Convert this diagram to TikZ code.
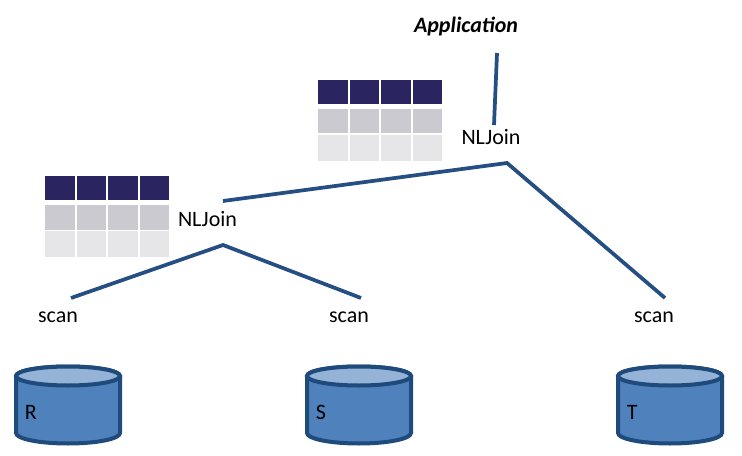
\documentclass[tikz,border=0pt]{standalone}
\usepackage{fontspec}
\setmainfont{Carlito}
\definecolor{linkblue}{HTML}{254F82}
\definecolor{cylfill}{HTML}{4F81BD}
\definecolor{cyltop}{HTML}{95B3D7}
\definecolor{cylline}{HTML}{1F4A7C}
\definecolor{rowa}{HTML}{2A2560}
\definecolor{rowb}{HTML}{CBCAD0}
\definecolor{rowc}{HTML}{E6E6E8}
\tikzset{
  lbl/.style={inner sep=0pt,font=\fontsize{16.5pt}{19pt}\selectfont,text=black},
  link/.style={draw=linkblue,line width=2.8pt},
  cylbody/.style={draw=cylline,line width=3pt,fill=cylfill},
  cyllid/.style={draw=cylline,line width=3pt,fill=cyltop},
}
\newcommand{\cylshape}[3]{% left x, name, letter
  \path[cylbody] (#1,376) -- (#1,433) arc[start angle=180,end angle=0,x radius=52,y radius=10.5] -- (#1+104,376) arc[start angle=0,end angle=-180,x radius=52,y radius=9.5] -- cycle;
  \path[cyllid] (#1+52,376) ellipse[x radius=52,y radius=9.5];
  \node[lbl,anchor=west] (#2) at (#1+8.5,412) {#3};
}
\newcommand{\gridtable}[3]{% x, y, name prefix
  \foreach \c/\cx/\w in {1/0/29.6,2/31.5/29.6,3/63/29.6,4/94.5/29.6}{
    \fill[rowa] (#1+\cx,#2) rectangle ++(\w,24);
    \fill[rowb] (#1+\cx,#2+29) rectangle ++(\w,24.5);
    \fill[rowc] (#1+\cx,#2+55) rectangle ++(\w,26);
  }
}
\begin{document}
\begin{tikzpicture}[x=0.75pt,y=-0.75pt]
\useasboundingbox (0,0) rectangle (742,456);
\gridtable{318}{80}{a}
\gridtable{45}{176}{b}
\node[lbl,font=\fontsize{16.5pt}{19pt}\selectfont\bfseries\itshape] (app) at (466,27) {Application};
\node[lbl] (joinA) at (491,137) {NLJoin};
\node[lbl] (joinB) at (207.5,219) {NLJoin};
\node[lbl] (scanR) at (58,317) {scan};
\node[lbl] (scanS) at (349,317) {scan};
\node[lbl] (scanT) at (654,317) {scan};
\coordinate (appEnd) at (497,53);
\coordinate (joinAtop) at (494,125);
\coordinate (joinAbot) at (507,163);
\coordinate (joinBtopEnd) at (223,201);
\coordinate (scanTtop) at (665,298);
\coordinate (joinBbot) at (223,245);
\coordinate (scanRtop) at (71,298);
\coordinate (scanStop) at (361,298);
\draw[link] (appEnd) -- (joinAtop);
\draw[link,line join=miter] (joinBtopEnd) -- (joinAbot) -- (scanTtop);
\draw[link,line join=miter] (scanRtop) -- (joinBbot) -- (scanStop);
\cylshape{16}{R}{R}
\cylshape{307}{S}{S}
\cylshape{618}{T}{T}
\end{tikzpicture}
\end{document}
